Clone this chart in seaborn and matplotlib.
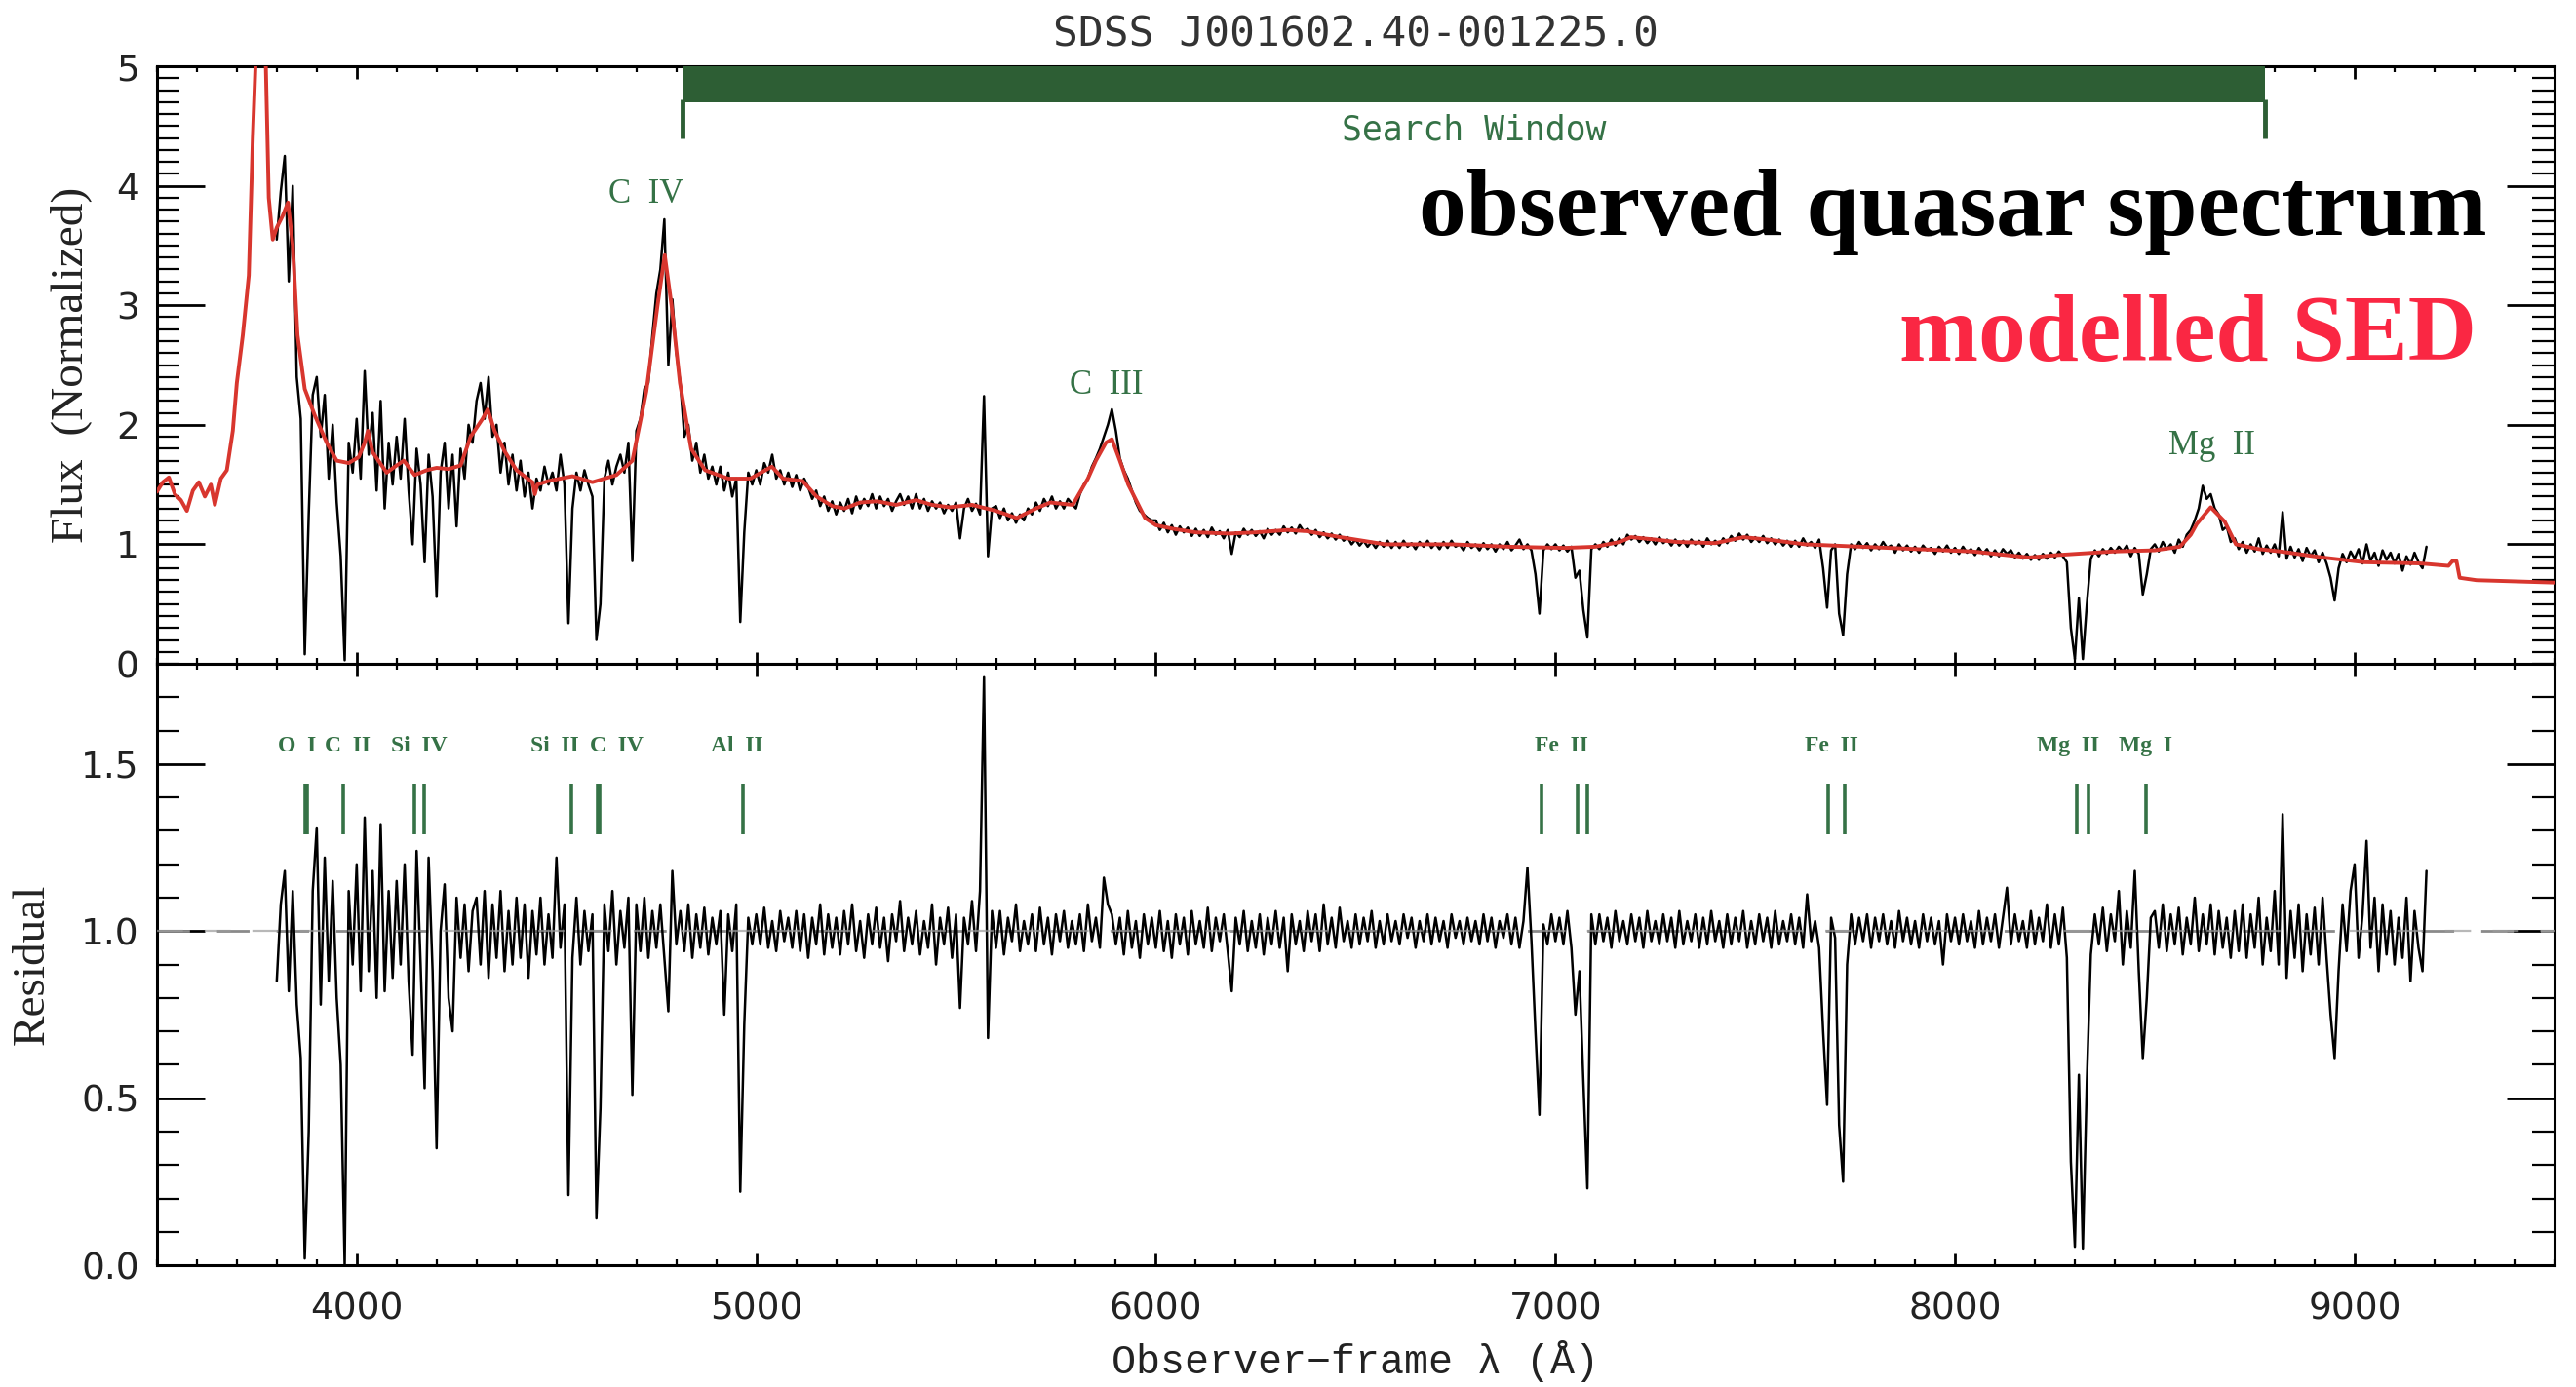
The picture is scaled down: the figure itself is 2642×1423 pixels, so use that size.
import numpy as np
import pandas as pd
import matplotlib
matplotlib.use("Agg")
import matplotlib.pyplot as plt
from matplotlib.ticker import MultipleLocator
import seaborn as sns

# ---------------- data ----------------
title = "SDSS J001602.40-001225.0"
wave_start = 3800      # first observed pixel (Angstrom)
wave_step = 10         # pixel width (Angstrom)

obs_flux = [
    3.55, 3.95, 4.25, 3.20, 4.00, 2.40, 2.05, 0.08, 1.25, 2.25,
    2.40, 1.90, 2.25, 1.55, 2.00, 1.35, 0.90, 0.03, 1.85, 1.60,
    2.05, 1.55, 2.45, 1.75, 2.10, 1.45, 2.20, 1.30, 1.85, 1.50,
    1.90, 1.55, 2.05, 1.45, 1.00, 1.80, 1.50, 0.85, 1.75, 1.40,
    0.56, 1.60, 1.85, 1.30, 1.75, 1.15, 1.80, 1.55, 2.00, 1.85,
    2.20, 2.35, 2.05, 2.40, 1.90, 2.00, 1.60, 1.85, 1.50, 1.75,
    1.45, 1.70, 1.40, 1.60, 1.30, 1.55, 1.45, 1.65, 1.50, 1.60,
    1.45, 1.75, 1.50, 0.34, 1.30, 1.60, 1.45, 1.62, 1.50, 1.40,
    0.20, 0.50, 1.55, 1.70, 1.50, 1.65, 1.75, 1.60, 1.85, 0.86,
    1.95, 2.05, 2.30, 2.35, 2.75, 3.10, 3.30, 3.72, 2.50, 3.05,
    2.60, 2.35, 1.90, 2.00, 1.70, 1.85, 1.60, 1.75, 1.55, 1.65,
    1.50, 1.65, 1.45, 1.60, 1.40, 1.55, 0.35, 1.10, 1.60, 1.50,
    1.62, 1.50, 1.68, 1.60, 1.75, 1.55, 1.62, 1.50, 1.60, 1.48,
    1.58, 1.45, 1.55, 1.48, 1.38, 1.45, 1.32, 1.40, 1.28, 1.36,
    1.25, 1.35, 1.28, 1.38, 1.26, 1.40, 1.30, 1.38, 1.32, 1.42,
    1.30, 1.40, 1.32, 1.38, 1.28, 1.36, 1.42, 1.33, 1.40, 1.30,
    1.42, 1.30, 1.38, 1.28, 1.36, 1.30, 1.35, 1.26, 1.33, 1.28,
    1.35, 1.05, 1.30, 1.38, 1.28, 1.34, 1.25, 2.24, 0.90, 1.30,
    1.32, 1.22, 1.30, 1.20, 1.26, 1.18, 1.25, 1.20, 1.30, 1.25,
    1.35, 1.28, 1.38, 1.32, 1.40, 1.30, 1.36, 1.30, 1.38, 1.34,
    1.30, 1.42, 1.50, 1.55, 1.65, 1.72, 1.80, 1.90, 2.00, 2.13,
    1.95, 1.72, 1.62, 1.55, 1.45, 1.35, 1.28, 1.25, 1.22, 1.20,
    1.20, 1.12, 1.18, 1.10, 1.16, 1.08, 1.15, 1.10, 1.14, 1.07,
    1.13, 1.07, 1.12, 1.06, 1.14, 1.08, 1.11, 1.05, 1.12, 0.92,
    1.10, 1.06, 1.13, 1.08, 1.12, 1.07, 1.11, 1.05, 1.13, 1.08,
    1.12, 1.08, 1.15, 1.10, 1.14, 1.09, 1.16, 1.11, 1.13, 1.08,
    1.12, 1.06, 1.10, 1.05, 1.09, 1.04, 1.08, 1.03, 1.06, 1.00,
    1.04, 0.99, 1.03, 0.98, 1.02, 0.97, 1.02, 0.98, 1.03, 0.97,
    1.02, 0.97, 1.03, 0.98, 1.01, 0.96, 1.02, 0.98, 1.03, 0.97,
    1.01, 0.96, 1.02, 0.97, 1.03, 0.98, 1.00, 0.95, 1.02, 0.97,
    1.00, 0.95, 1.01, 0.96, 1.00, 0.94, 1.00, 0.96, 1.02, 0.95,
    0.99, 1.04, 0.96, 1.00, 0.95, 0.75, 0.42, 0.95, 1.00, 0.96,
    1.00, 0.95, 0.99, 0.94, 0.98, 0.72, 0.78, 0.45, 0.22, 0.96,
    1.00, 0.96, 1.02, 0.98, 1.04, 0.99, 1.05, 1.00, 1.08, 1.04,
    1.07, 1.02, 1.06, 1.01, 1.05, 1.00, 1.06, 1.01, 1.04, 0.99,
    1.04, 0.99, 1.03, 0.98, 1.04, 1.00, 1.03, 0.98, 1.05, 1.00,
    1.03, 0.99, 1.05, 1.01, 1.07, 1.03, 1.09, 1.04, 1.08, 1.02,
    1.06, 1.02, 1.07, 1.01, 1.05, 1.00, 1.04, 0.99, 1.03, 0.98,
    1.03, 0.98, 1.05, 0.99, 1.02, 0.97, 1.04, 0.80, 0.47, 0.95,
    1.00, 0.42, 0.24, 0.75, 1.00, 0.96, 1.02, 0.97, 1.01, 0.95,
    1.00, 0.96, 1.02, 0.97, 0.99, 0.93, 1.00, 0.95, 0.99, 0.94,
    0.98, 0.93, 0.99, 0.95, 0.97, 0.92, 0.98, 0.94, 0.99, 0.93,
    0.97, 0.92, 0.98, 0.93, 0.96, 0.91, 0.97, 0.92, 0.96, 0.90,
    0.95, 0.90, 0.96, 0.92, 0.95, 0.89, 0.93, 0.88, 0.92, 0.87,
    0.91, 0.87, 0.92, 0.88, 0.93, 0.89, 0.94, 0.90, 0.85, 0.30,
    0.04, 0.55, 0.04, 0.50, 0.88, 0.95, 0.90, 0.96, 0.92, 0.97,
    0.93, 0.98, 0.94, 0.99, 0.90, 0.97, 0.92, 0.58, 0.75, 0.96,
    1.00, 0.94, 1.02, 0.96, 1.00, 0.93, 1.04, 0.98, 1.08, 1.12,
    1.20, 1.30, 1.49, 1.38, 1.42, 1.30, 1.25, 1.12, 1.15, 1.02,
    1.05, 0.96, 1.02, 0.93, 1.00, 0.94, 1.05, 0.92, 0.99, 0.93,
    1.00, 0.90, 1.27, 0.88, 0.98, 0.89, 0.96, 0.86, 0.97, 0.90,
    0.95, 0.85, 0.93, 0.84, 0.72, 0.53, 0.80, 0.92, 0.85, 0.94,
    0.88, 0.96, 0.84, 1.00, 0.86, 0.93, 0.82, 0.95, 0.87, 0.93,
    0.84, 0.92, 0.78, 0.90, 0.83, 0.93, 0.85, 0.80, 0.98,
]

residual = [
    0.85, 1.08, 1.18, 0.82, 1.12, 0.78, 0.62, 0.02, 0.40, 1.12,
    1.31, 0.78, 1.22, 0.85, 1.15, 0.80, 0.60, 0.00, 1.12, 0.90,
    1.20, 0.82, 1.34, 0.88, 1.18, 0.80, 1.32, 0.82, 1.12, 0.86,
    1.15, 0.90, 1.20, 0.85, 0.63, 1.24, 0.90, 0.53, 1.22, 0.88,
    0.35, 1.00, 1.14, 0.80, 0.70, 1.10, 0.92, 1.08, 0.88, 1.06,
    1.10, 0.90, 1.12, 0.86, 1.08, 0.92, 1.12, 0.88, 1.06, 0.90,
    1.10, 0.92, 1.08, 0.86, 1.06, 0.93, 1.10, 0.90, 1.05, 0.92,
    1.22, 0.95, 1.08, 0.21, 0.92, 1.10, 0.90, 1.06, 0.94, 1.05,
    0.14, 0.47, 1.08, 0.94, 1.12, 0.90, 1.06, 0.95, 1.10, 0.51,
    1.08, 0.94, 1.10, 0.92, 1.06, 0.95, 1.08, 0.92, 0.76, 1.18,
    0.96, 1.06, 0.94, 1.08, 0.92, 1.05, 0.95, 1.07, 0.93, 1.04,
    0.96, 1.06, 0.75, 1.05, 0.94, 1.08, 0.22, 0.72, 1.04, 0.96,
    1.05, 0.96, 1.07, 0.95, 1.03, 0.94, 1.06, 0.97, 1.04, 0.95,
    1.06, 0.94, 1.05, 0.92, 1.04, 0.96, 1.08, 0.93, 1.05, 0.95,
    1.04, 0.93, 1.06, 0.96, 1.08, 0.94, 1.03, 0.92, 1.05, 0.96,
    1.07, 0.95, 1.04, 0.91, 1.05, 0.97, 1.09, 0.94, 1.04, 0.96,
    1.06, 0.93, 1.03, 0.95, 1.08, 0.90, 1.04, 0.96, 1.07, 0.92,
    1.05, 0.77, 1.04, 0.96, 1.09, 0.94, 1.12, 1.76, 0.68, 1.06,
    0.95, 1.06, 0.93, 1.04, 0.97, 1.08, 0.94, 1.03, 0.96, 1.05,
    0.94, 1.07, 0.96, 1.04, 0.93, 1.05, 0.97, 1.06, 0.95, 1.03,
    0.96, 1.05, 0.94, 1.08, 0.97, 1.04, 0.95, 1.16, 1.08, 1.05,
    0.96, 1.04, 0.93, 1.06, 0.95, 1.03, 0.92, 1.05, 0.96, 1.04,
    0.95, 1.06, 0.94, 1.03, 0.92, 1.05, 0.96, 1.04, 0.93, 1.06,
    0.96, 1.03, 0.95, 1.07, 0.94, 1.04, 0.97, 1.05, 0.94, 0.82,
    1.04, 0.96, 1.06, 0.94, 1.03, 0.95, 1.05, 0.93, 1.04, 0.96,
    1.06, 0.95, 1.04, 0.88, 1.05, 0.96, 1.03, 0.94, 1.06, 0.97,
    1.05, 0.94, 1.08, 0.96, 1.04, 0.95, 1.07, 0.97, 1.03, 0.95,
    1.05, 0.96, 1.04, 0.97, 1.06, 0.95, 1.03, 0.96, 1.05, 0.97,
    1.03, 0.96, 1.05, 0.98, 1.04, 0.95, 1.03, 0.97, 1.05, 0.96,
    1.04, 0.97, 1.03, 0.95, 1.05, 0.98, 1.03, 0.96, 1.04, 0.97,
    1.03, 0.96, 1.05, 0.97, 1.04, 0.95, 1.03, 0.98, 1.05, 0.96,
    1.04, 0.95, 1.03, 1.19, 0.97, 0.70, 0.45, 1.02, 0.96, 1.05,
    0.97, 1.04, 0.96, 1.06, 0.95, 0.75, 0.88, 0.55, 0.23, 1.05,
    0.96, 1.05, 0.97, 1.04, 0.95, 1.06, 0.97, 1.03, 0.96, 1.05,
    0.97, 1.04, 0.95, 1.06, 0.97, 1.03, 0.96, 1.05, 0.97, 1.04,
    0.95, 1.06, 0.96, 1.03, 0.97, 1.05, 0.95, 1.04, 0.96, 1.06,
    0.97, 1.03, 0.95, 1.05, 0.96, 1.04, 0.97, 1.06, 0.95, 1.03,
    0.96, 1.05, 0.97, 1.04, 0.95, 1.06, 0.96, 1.03, 0.97, 1.05,
    0.96, 1.04, 0.95, 1.11, 0.97, 1.03, 0.95, 0.70, 0.48, 1.04,
    0.98, 0.42, 0.25, 0.90, 1.05, 0.96, 1.04, 0.97, 1.05, 0.95,
    1.04, 0.97, 1.05, 0.96, 1.03, 0.95, 1.06, 0.97, 1.04, 0.96,
    1.03, 0.95, 1.05, 0.97, 1.04, 0.96, 1.03, 0.90, 1.05, 0.97,
    1.04, 0.96, 1.05, 0.97, 1.03, 0.95, 1.06, 0.96, 1.04, 0.97,
    1.05, 0.95, 1.04, 1.13, 0.96, 1.05, 0.97, 1.03, 0.95, 1.06,
    0.96, 1.04, 0.97, 1.08, 0.95, 1.05, 0.96, 1.07, 0.92, 0.31,
    0.055, 0.57, 0.05, 0.55, 0.93, 1.05, 0.96, 1.07, 0.94, 1.05,
    0.97, 1.12, 0.90, 1.06, 0.95, 1.18, 0.88, 0.62, 0.80, 1.04,
    1.06, 0.95, 1.08, 0.94, 1.05, 0.96, 1.07, 0.93, 1.04, 0.96,
    1.10, 0.94, 1.05, 0.96, 1.08, 0.93, 1.06, 0.95, 1.04, 0.92,
    1.06, 0.94, 1.08, 0.92, 1.05, 0.95, 1.10, 0.90, 1.04, 0.94,
    1.12, 0.90, 1.35, 0.86, 1.06, 0.92, 1.08, 0.88, 1.05, 0.93,
    1.07, 0.90, 1.10, 0.92, 0.75, 0.62, 0.88, 1.08, 0.94, 1.12,
    1.20, 0.92, 1.05, 1.27, 0.95, 1.10, 0.88, 1.08, 0.93, 1.06,
    0.90, 1.04, 0.92, 1.10, 0.85, 1.06, 0.95, 0.88, 1.18,
]

model_wave = [3500, 3515, 3530, 3545, 3560, 3575, 3590, 3605, 3620, 3635,
              3645, 3660, 3675, 3690, 3700, 3715, 3730, 3740, 3750, 3760,
              3770, 3780, 3790, 3800, 3815, 3828, 3840, 3852, 3870, 3895,
              3925, 3950, 3980, 4005, 4020, 4028, 4040, 4075, 4100, 4118,
              4145, 4175, 4200, 4230, 4260, 4285, 4315, 4328, 4345, 4370,
              4400, 4440, 4446, 4452, 4480, 4540, 4590, 4650, 4690, 4725,
              4753, 4771, 4788, 4809, 4837, 4872, 4930, 4985, 5039, 5067,
              5116, 5151, 5190, 5221, 5260, 5302, 5350, 5400, 5440, 5484,
              5540, 5600, 5652, 5700, 5736, 5792, 5830, 5850, 5875, 5890,
              5910, 5931, 5973, 6000, 6043, 6100, 6183, 6250, 6330, 6378,
              6462, 6574, 6742, 6882, 7022, 7100, 7161, 7189, 7250, 7301,
              7400, 7471, 7530, 7625, 7765, 7900, 8045, 8185, 8255, 8395,
              8500, 8563, 8590, 8605, 8640, 8675, 8703, 8760, 8815, 8920,
              9025, 9165, 9235, 9245, 9255, 9263, 9305, 9400, 9500]
model_flux = [1.44, 1.52, 1.56, 1.42, 1.37, 1.28, 1.45, 1.52, 1.40, 1.50,
              1.33, 1.55, 1.62, 1.95, 2.35, 2.75, 3.25, 4.40, 5.30, 5.60,
              5.40, 3.90, 3.55, 3.65, 3.75, 3.86, 3.50, 2.75, 2.30, 2.08,
              1.85, 1.70, 1.68, 1.73, 1.85, 1.95, 1.77, 1.60, 1.66, 1.70,
              1.58, 1.62, 1.64, 1.63, 1.66, 1.90, 2.05, 2.13, 1.95, 1.78,
              1.62, 1.52, 1.42, 1.50, 1.53, 1.57, 1.52, 1.58, 1.70, 2.28,
              3.00, 3.42, 3.00, 2.35, 1.80, 1.62, 1.55, 1.55, 1.65, 1.55,
              1.53, 1.40, 1.32, 1.30, 1.35, 1.36, 1.33, 1.37, 1.33, 1.31,
              1.33, 1.28, 1.22, 1.30, 1.35, 1.33, 1.55, 1.70, 1.85, 1.88,
              1.70, 1.50, 1.22, 1.16, 1.13, 1.10, 1.09, 1.10, 1.12, 1.11,
              1.06, 1.00, 1.00, 0.98, 0.97, 0.98, 1.02, 1.06, 1.04, 1.02,
              1.01, 1.06, 1.04, 1.00, 0.98, 0.96, 0.94, 0.89, 0.91, 0.94,
              0.95, 0.98, 1.08, 1.17, 1.31, 1.19, 1.00, 0.96, 0.94, 0.89,
              0.85, 0.84, 0.82, 0.86, 0.86, 0.72, 0.70, 0.69, 0.68]

search_window = [4815, 8775]
search_label = "Search Window"

emission_labels = ["C  IV", "C  III", "Mg  II"]
emission_x = [4725, 5876, 8643]
emission_y = [3.93, 2.33, 1.82]

abs_labels = ["O  I", "C  II", "Si  IV", "Si  II", "C  IV", "Al  II",
              "Fe  II", "Fe  II", "Mg  II", "Mg  I"]
abs_label_x = [3850, 3978, 4157, 4495, 4650, 4951, 7016, 7691, 8284, 8478]
abs_marker_x = [3870, 3876, 3967, 4145, 4169, 4537, 4603, 4609, 4967,
                6965, 7055, 7080, 7683, 7725, 8305, 8333, 8477]

# ---------------- style ----------------
sns.set_style("ticks")
plt.rcParams["font.family"] = ["DejaVu Sans"]
plt.rcParams["axes.linewidth"] = 2.2

dark_green = "#2d5e34"
label_green = "#357246"
model_red = "#d8362e"

obs_wave = wave_start + wave_step * np.arange(len(obs_flux))
res_wave = wave_start + wave_step * np.arange(len(residual))
df_obs = pd.DataFrame({"wave": obs_wave, "flux": obs_flux})
df_res = pd.DataFrame({"wave": res_wave, "res": residual})
df_mod = pd.DataFrame({"wave": model_wave, "flux": model_flux})

fig = plt.figure(figsize=(26.42, 14.23), dpi=100)
ax1 = fig.add_axes([0.0609, 0.5214, 0.9307, 0.4308])
ax2 = fig.add_axes([0.0609, 0.0878, 0.9307, 0.4336])

# top panel
sns.lineplot(data=df_obs, x="wave", y="flux", ax=ax1, color="black", lw=1.8,
             estimator=None, legend=False, zorder=3)
sns.lineplot(data=df_mod, x="wave", y="flux", ax=ax1, color=model_red, lw=2.8,
             estimator=None, legend=False, zorder=4)

ax1.fill_between(search_window, 4.7, 5.0, color=dark_green, lw=0, zorder=5)
ax1.vlines(search_window, 4.4, 4.72, color=dark_green, lw=3.5, zorder=5)
ax1.text(np.mean(search_window), 4.47, search_label, ha="center", va="center",
         fontsize=25, family="DejaVu Sans Mono", color=label_green)

for lab, x, y in zip(emission_labels, emission_x, emission_y):
    ax1.text(x, y, lab, ha="center", va="center", fontsize=25,
             family="Liberation Serif", color=label_green)

# bottom panel
ax2.axhline(1.0, color="#8a8a8a", lw=2.0, dashes=(12, 10), zorder=2)
sns.lineplot(data=df_res, x="wave", y="res", ax=ax2, color="black", lw=1.8,
             estimator=None, legend=False, zorder=3)
ax2.axhline(1.0, color="#9a9a9a", lw=1.6, dashes=(12, 10), zorder=4, alpha=0.7)

ax2.vlines(abs_marker_x, 1.29, 1.44, color=label_green, lw=2.6)
for lab, x in zip(abs_labels, abs_label_x):
    ax2.text(x, 1.555, lab, ha="center", va="center", fontsize=17,
             fontweight="bold", family="Liberation Serif", color=label_green)

# axes formatting
for ax in (ax1, ax2):
    ax.set_xlim(3500, 9500)
    ax.xaxis.set_major_locator(MultipleLocator(1000))
    ax.xaxis.set_minor_locator(MultipleLocator(100))
    ax.yaxis.set_minor_locator(MultipleLocator(0.1))
    ax.tick_params(which="both", direction="in", top=True, right=True,
                   colors="black")
    ax.tick_params(axis="y", which="major", length=35, width=2.0, pad=13,
                   labelsize=27)
    ax.tick_params(axis="y", which="minor", length=16.5, width=1.6)
    ax.tick_params(axis="x", which="major", length=9, width=2.0, pad=20,
                   labelsize=27)
    ax.tick_params(axis="x", which="minor", length=4.5, width=1.6)
    for sp in ax.spines.values():
        sp.set_color("black")
        sp.set_linewidth(2.2)
    for lbl in ax.get_xticklabels() + ax.get_yticklabels():
        lbl.set_color("#222222")

ax1.set_ylim(0, 5)
ax1.yaxis.set_major_locator(MultipleLocator(1))
ax1.tick_params(axis="x", labelbottom=False)
ax1.set_xlabel("")
ax1.set_ylabel("Flux  (Normalized)", fontsize=34, family="Liberation Serif",
               color="#222222")
ax1.yaxis.set_label_coords(-0.027, 0.5)

ax2.set_ylim(0, 1.8)
ax2.yaxis.set_major_locator(MultipleLocator(0.5))
ax2.set_yticks([0.0, 0.5, 1.0, 1.5])
ax2.yaxis.set_major_formatter(matplotlib.ticker.FormatStrFormatter("%.1f"))
ax2.set_ylabel("Residual", fontsize=34, family="Liberation Serif",
               color="#222222")
ax2.yaxis.set_label_coords(-0.043, 0.5)
ax2.set_xlabel("Observer\u2212frame \u03bb (\u00c5)", fontsize=30,
               family="Liberation Mono", color="#222222")
ax2.xaxis.set_label_coords(0.5, -0.125)

fig.text(0.5263, 0.975, title, ha="center", va="center", fontsize=31,
         family="DejaVu Sans Mono", color="#333333")

fig.text(0.9655, 0.8306, "observed quasar spectrum", ha="right",
         va="baseline", fontsize=70, fontweight="bold",
         family="Liberation Serif", color="black")
fig.text(0.9614, 0.740, "modelled SED", ha="right", va="baseline",
         fontsize=70, fontweight="bold", family="Liberation Serif",
         color="#fa2743")

fig.savefig("out.png", dpi=100)
